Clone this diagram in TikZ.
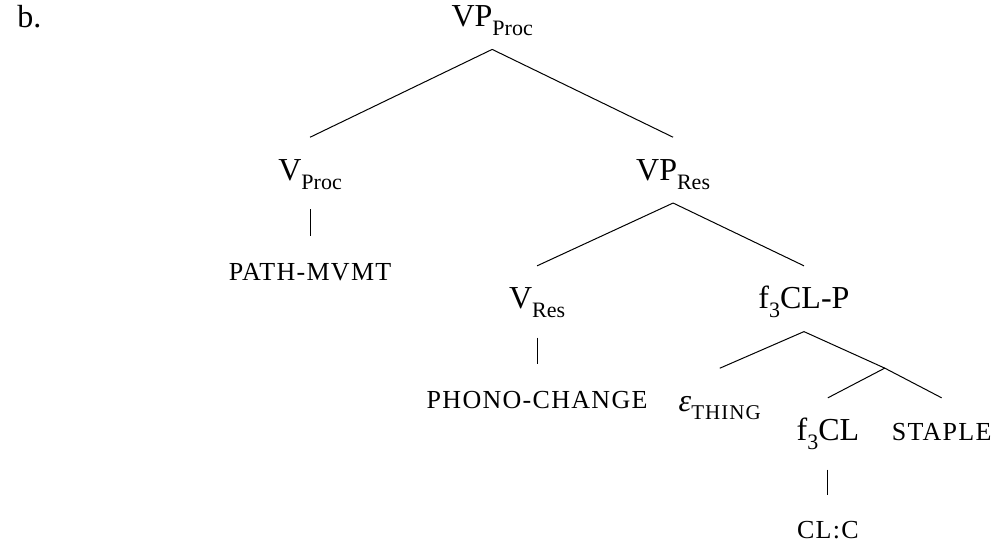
\documentclass[tikz,border=0pt]{standalone}
\usepackage{fontspec}
\setmainfont{Liberation Serif}
\newfontfamily\capsfont[LetterSpace=5]{Liberation Serif}
\usetikzlibrary{positioning}

\newcommand{\lsub}[1]{\raisebox{-4.5pt}{\fontsize{11}{13}\selectfont #1}}
\newcommand{\smcap}[1]{{\capsfont\fontsize{13}{15}\selectfont #1}}
\newcommand{\subcap}[1]{\raisebox{-4pt}{\capsfont\fontsize{10.5}{12}\selectfont #1}}

\begin{document}
\begin{tikzpicture}[
    cat/.style={inner xsep=0pt, inner ysep=8pt, text height=13.3pt, text depth=3.2pt, font=\fontsize{16}{19}\selectfont},
    branch/.style={line width=0.5pt},
    bar/.style={line width=0.5pt, shorten <=3pt, shorten >=0.5pt}
]
\useasboundingbox (0,0) rectangle (17.47,-9.61);

% Example label
\node [anchor=base west, font=\fontsize{16}{19}\selectfont] (label) at (0.18,-0.49) {b.};

% Top layer
\node [cat] (vp_proc) at (8.65,-0.29) {VP\lsub{Proc}};
\node [cat] (v_proc) at (5.45,-2.99) {V\lsub{Proc}};
\node [cat] (vp_res) at (11.83,-2.99) {VP\lsub{Res}};
\node [cat] (path_mvmt) at (5.45,-4.75) {\smcap{PATH-MVMT}};

% Result layer
\node [cat] (v_res) at (9.44,-5.25) {V\lsub{Res}};
\node [cat] (f_clp) at (14.13,-5.25) {f\lsub{3}CL-P};
\node [cat] (phono_change) at (9.44,-7.00) {\smcap{PHONO-CHANGE}};

% Classifier layer
\node [cat] (eps_thing) at (12.65,-7.05) {\textit{ε}\subcap{THING}};
\coordinate (cl_bar) at (15.55,-6.47);
\node [cat] (f_cl) at (14.55,-7.57) {f\lsub{3}CL};
\node [cat] (staple) at (16.55,-7.57) {\smcap{STAPLE}};
\node [cat] (cl_c) at (14.55,-9.29) {\smcap{CL:C}};

% Branches
\draw [branch] (vp_proc.south) -- (v_proc.north);
\draw [branch] (vp_proc.south) -- (vp_res.north);
\draw [branch] (vp_res.south) -- (v_res.north);
\draw [branch] (vp_res.south) -- (f_clp.north);
\draw [branch] (f_clp.south) -- (eps_thing.north);
\draw [branch] (f_clp.south) -- (cl_bar);
\draw [branch] (cl_bar) -- (f_cl.north);
\draw [branch] (cl_bar) -- (staple.north);

% Unary bars
\draw [bar] (v_proc.south) -- (path_mvmt.north);
\draw [bar] (v_res.south) -- (phono_change.north);
\draw [bar] (f_cl.south) -- (cl_c.north);

\end{tikzpicture}
\end{document}
